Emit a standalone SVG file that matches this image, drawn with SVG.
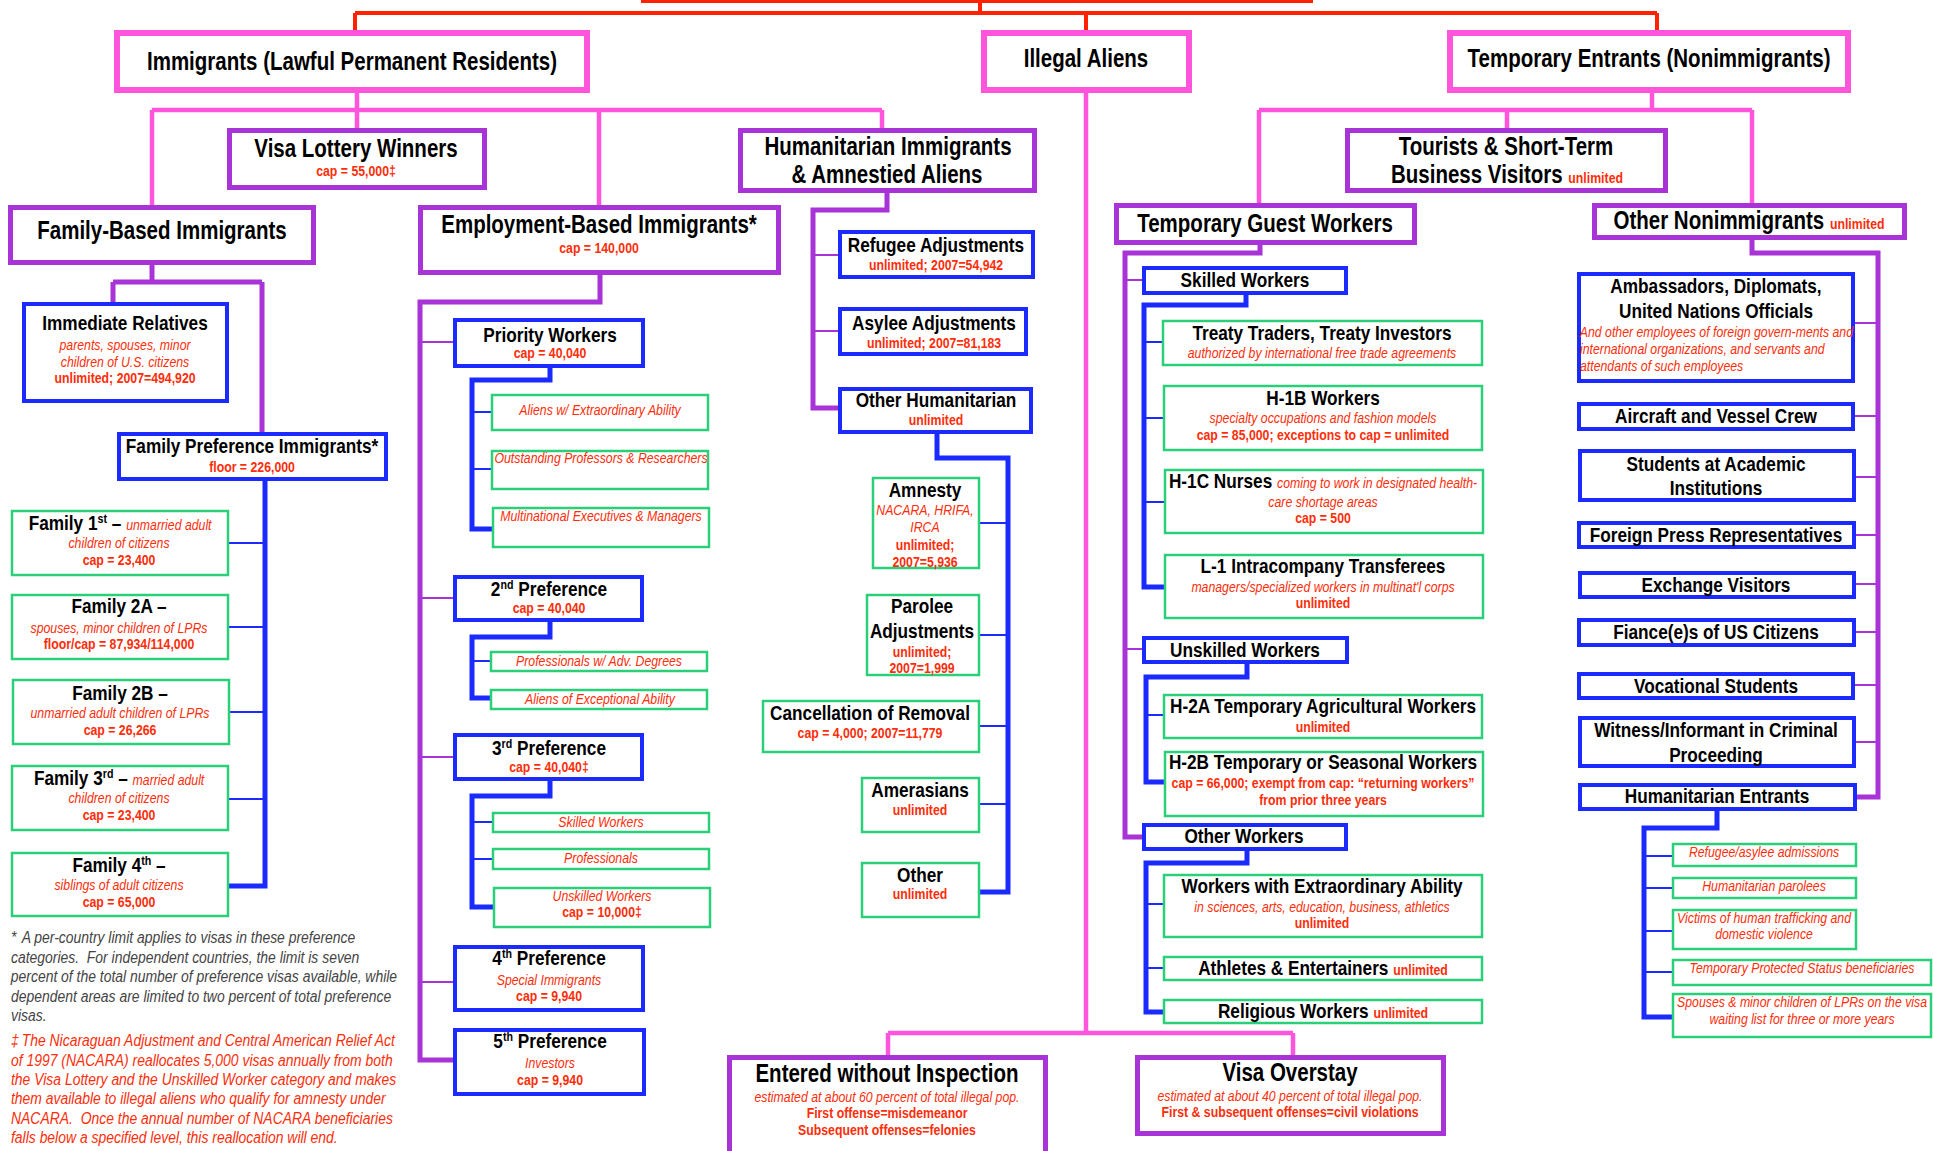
<svg xmlns="http://www.w3.org/2000/svg" width="1933" height="1151" viewBox="0 0 1933 1151">
<style>
.bg{fill:#fff}
.pk{fill:#fff;stroke:#FF55DD;stroke-width:6}
.pu{fill:#fff;stroke:#A833D6;stroke-width:5}
.bl{fill:#fff;stroke:#1B2BFF;stroke-width:4}
.gr{fill:#fff;stroke:#2ACF7A;stroke-width:2.5}
.cr{fill:none;stroke:#FF2200;stroke-width:4}
.cp{fill:none;stroke:#FF55DD;stroke-width:4.5}
.cu{fill:none;stroke:#A833D6;stroke-width:5}
.cut{fill:none;stroke:#A833D6;stroke-width:2}
.cb{fill:none;stroke:#1B2BFF;stroke-width:5}
.cbt{fill:none;stroke:#1B2BFF;stroke-width:2}
text{font-family:"Liberation Sans",Arial,sans-serif;transform:scaleX(0.82);transform-box:fill-box;transform-origin:50% 50%}
text.L{transform-origin:0% 50%}
.T{font-size:25px;font-weight:bold;text-anchor:middle;fill:#000}
.B{font-size:21px;font-weight:bold;text-anchor:middle;fill:#000}
.R{font-size:15px;font-weight:bold;text-anchor:middle;fill:#FF2D0A}
.I{font-size:15px;font-style:italic;text-anchor:middle;fill:#FF2D0A}
.ri{font-size:15px;font-style:italic;font-weight:normal;fill:#FF2D0A}
.rb{font-size:15px;font-weight:bold;fill:#FF2D0A}
.sup{font-size:13px}
.fg{font-size:17px;font-style:italic;fill:#444}
.fr{font-size:17px;font-style:italic;fill:#FF2D0A}
</style>
<rect class="bg" x="0" y="0" width="1933" height="1151"/>

<g id="connectors">
<path class="cr" d="M641,1H1313M980,0V13M355,13H1657M355,13V30M1086,13V30M1657,13V30"/>
<path class="cp" d="M357,93V128M152,110H882M152,110V205M599,110V205M882,110V128"/>
<path class="cp" d="M1086,93V1033M888,1033H1293M888,1033V1055M1293,1033V1055"/>
<path class="cp" d="M1652,93V110M1259,110H1752M1259,110V203M1507,110V128M1752,110V203"/>
<path class="cu" d="M152,265V282M113,282H262M113,282V302M262,282V432"/>
<path class="cu" d="M600,275V302H420V1060H453"/>
<path class="cut" d="M420,342H453M420,598H453M420,757H453M420,982H453"/>
<path class="cu" d="M887,193V210H813V408H838"/>
<path class="cut" d="M813,255H838M813,331H838"/>
<path class="cu" d="M1260,245V253H1125V837H1142"/>
<path class="cut" d="M1125,280H1142M1125,649H1142"/>
<path class="cu" d="M1752,240V253H1878V797H1857"/>
<path class="cut" d="M1855,323H1878M1855,416H1878M1856,477H1878M1856,535H1878M1856,584H1878M1856,632H1878M1855,685H1878M1856,742H1878"/>
<path class="cb" d="M265,481V886H229"/>
<path class="cbt" d="M229,543H265M229,627H265M230,712H265M229,799H265"/>
<path class="cb" d="M550,368V380H472V529H492"/>
<path class="cbt" d="M472,412H491M472,469H491"/>
<path class="cb" d="M550,622V637H472V698H490"/>
<path class="cbt" d="M472,661H490"/>
<path class="cb" d="M550,781V796H472V907H493"/>
<path class="cbt" d="M472,822H492M472,859H492"/>
<path class="cb" d="M937,434V458H1008V892H980"/>
<path class="cbt" d="M980,523H1008M980,635H1008M980,726H1008M980,804H1008"/>
<path class="cb" d="M1246,295V305H1144V587H1164"/>
<path class="cbt" d="M1144,342H1162M1144,418H1163M1144,502H1164"/>
<path class="cb" d="M1247,664V677H1146V782H1164"/>
<path class="cbt" d="M1146,715H1163"/>
<path class="cb" d="M1247,851V863H1146V1012H1164"/>
<path class="cbt" d="M1146,904H1163M1146,968H1163"/>
<path class="cb" d="M1717,811V828H1644V1017H1672"/>
<path class="cbt" d="M1644,856H1672M1644,888H1672M1644,931H1672M1644,972H1672"/>
</g>

<g id="immigrants"><rect class="pk" x="117" y="33" width="470" height="57"/><text class="T" x="352" y="70">Immigrants (Lawful Permanent Residents)</text></g>
<g id="illegal"><rect class="pk" x="984" y="33" width="205" height="57"/><text class="T" x="1086" y="67">Illegal Aliens</text></g>
<g id="temporary"><rect class="pk" x="1450" y="33" width="398" height="57"/><text class="T" x="1649" y="67">Temporary Entrants (Nonimmigrants)</text></g>

<g id="visa-lottery"><rect class="pu" x="229.5" y="130.5" width="255" height="57"/><text class="T" x="356" y="157">Visa Lottery Winners</text><text class="R" x="356" y="176">cap = 55,000‡</text></g>
<g id="humanitarian"><rect class="pu" x="740.5" y="130.5" width="294" height="60"/><text class="T" x="888" y="155">Humanitarian Immigrants</text><text class="T" x="887" y="183">&amp; Amnestied Aliens</text></g>
<g id="family-based"><rect class="pu" x="10.5" y="207.5" width="303" height="55"/><text class="T" x="162" y="239">Family-Based Immigrants</text></g>
<g id="employment"><rect class="pu" x="420.5" y="207.5" width="358" height="65"/><text class="T" x="599" y="233">Employment-Based Immigrants*</text><text class="R" x="599" y="253">cap = 140,000</text></g>
<g id="tourists"><rect class="pu" x="1347.5" y="130.5" width="318" height="60"/><text class="T" x="1506" y="155">Tourists &amp; Short-Term</text><text class="T" x="1507" y="183">Business Visitors <tspan class="rb">unlimited</tspan></text></g>
<g id="guest-workers"><rect class="pu" x="1116.5" y="205.5" width="298" height="37"/><text class="T" x="1265" y="232">Temporary Guest Workers</text></g>
<g id="other-nonimm"><rect class="pu" x="1594.5" y="205.5" width="310" height="32"/><text class="T" x="1749" y="229">Other Nonimmigrants <tspan class="rb">unlimited</tspan></text></g>
<g id="entered"><rect class="pu" x="729.5" y="1057.5" width="316" height="110"/><text class="T" x="887" y="1082">Entered without Inspection</text><text class="I" x="887" y="1102">estimated at about 60 percent of total illegal pop.</text><text class="R" x="887" y="1118">First offense=misdemeanor</text><text class="R" x="887" y="1135">Subsequent offenses=felonies</text></g>
<g id="overstay"><rect class="pu" x="1137.5" y="1057.5" width="306" height="76"/><text class="T" x="1290" y="1081">Visa Overstay</text><text class="I" x="1290" y="1101">estimated at about 40 percent of total illegal pop.</text><text class="R" x="1290" y="1117">First &amp; subsequent offenses=civil violations</text></g>

<g id="immediate"><rect class="bl" x="24" y="304" width="203" height="97"/><text class="B" x="125" y="330">Immediate Relatives</text><text class="I" x="125" y="350">parents, spouses, minor</text><text class="I" x="125" y="367">children of U.S. citizens</text><text class="R" x="125" y="383">unlimited; 2007=494,920</text></g>
<g id="family-pref"><rect class="bl" x="119" y="434" width="267" height="45"/><text class="B" x="252" y="453">Family Preference Immigrants*</text><text class="R" x="252" y="472">floor = 226,000</text></g>
<g id="fam1"><rect class="gr" x="12" y="511" width="216" height="64"/><text class="B" x="120" y="530">Family 1<tspan class="sup" dy="-7">st</tspan><tspan dy="7"> – </tspan><tspan class="ri">unmarried adult</tspan></text><text class="I" x="119" y="548">children of citizens</text><text class="R" x="119" y="565">cap = 23,400</text></g>
<g id="fam2a"><rect class="gr" x="12" y="595" width="216" height="64"/><text class="B" x="119" y="613">Family 2A –</text><text class="I" x="119" y="633">spouses, minor children of LPRs</text><text class="R" x="119" y="649">floor/cap = 87,934/114,000</text></g>
<g id="fam2b"><rect class="gr" x="13" y="680" width="216" height="64"/><text class="B" x="120" y="700">Family 2B –</text><text class="I" x="120" y="718">unmarried adult children of LPRs</text><text class="R" x="120" y="735">cap = 26,266</text></g>
<g id="fam3"><rect class="gr" x="12" y="766" width="216" height="64"/><text class="B" x="119" y="785">Family 3<tspan class="sup" dy="-7">rd</tspan><tspan dy="7"> – </tspan><tspan class="ri">married adult</tspan></text><text class="I" x="119" y="803">children of citizens</text><text class="R" x="119" y="820">cap = 23,400</text></g>
<g id="fam4"><rect class="gr" x="12" y="853" width="216" height="63"/><text class="B" x="119" y="872">Family 4<tspan class="sup" dy="-7">th</tspan><tspan dy="7"> –</tspan></text><text class="I" x="119" y="890">siblings of adult citizens</text><text class="R" x="119" y="907">cap = 65,000</text></g>

<g id="priority"><rect class="bl" x="455" y="320" width="188" height="46"/><text class="B" x="550" y="342">Priority Workers</text><text class="R" x="550" y="358">cap = 40,040</text></g>
<g id="eb1a"><rect class="gr" x="492" y="395" width="216" height="35"/><text class="I" x="600" y="415">Aliens w/ Extraordinary Ability</text></g>
<g id="eb1b"><rect class="gr" x="492" y="451" width="216" height="38"/><text class="I" x="601" y="463">Outstanding Professors &amp; Researchers</text></g>
<g id="eb1c"><rect class="gr" x="493" y="508" width="216" height="39"/><text class="I" x="601" y="521">Multinational Executives &amp; Managers</text></g>
<g id="pref2"><rect class="bl" x="455" y="577" width="187" height="43"/><text class="B" x="549" y="596">2<tspan class="sup" dy="-7">nd</tspan><tspan dy="7"> Preference</tspan></text><text class="R" x="549" y="613">cap = 40,040</text></g>
<g id="eb2a"><rect class="gr" x="491" y="652" width="216" height="19"/><text class="I" x="599" y="666">Professionals w/ Adv. Degrees</text></g>
<g id="eb2b"><rect class="gr" x="491" y="690" width="216" height="19"/><text class="I" x="600" y="704">Aliens of Exceptional Ability</text></g>
<g id="pref3"><rect class="bl" x="455" y="735" width="187" height="44"/><text class="B" x="549" y="755">3<tspan class="sup" dy="-7">rd</tspan><tspan dy="7"> Preference</tspan></text><text class="R" x="549" y="772">cap = 40,040‡</text></g>
<g id="eb3a"><rect class="gr" x="493" y="813" width="216" height="19"/><text class="I" x="601" y="827">Skilled Workers</text></g>
<g id="eb3b"><rect class="gr" x="493" y="849" width="216" height="20"/><text class="I" x="601" y="863">Professionals</text></g>
<g id="eb3c"><rect class="gr" x="494" y="888" width="216" height="39"/><text class="I" x="602" y="901">Unskilled Workers</text><text class="R" x="602" y="917">cap = 10,000‡</text></g>
<g id="pref4"><rect class="bl" x="455" y="947" width="188" height="63"/><text class="B" x="549" y="965">4<tspan class="sup" dy="-7">th</tspan><tspan dy="7"> Preference</tspan></text><text class="I" x="549" y="985">Special Immigrants</text><text class="R" x="549" y="1001">cap = 9,940</text></g>
<g id="pref5"><rect class="bl" x="455" y="1030" width="189" height="64"/><text class="B" x="550" y="1048">5<tspan class="sup" dy="-7">th</tspan><tspan dy="7"> Preference</tspan></text><text class="I" x="550" y="1068">Investors</text><text class="R" x="550" y="1085">cap = 9,940</text></g>

<g id="refugee"><rect class="bl" x="840" y="232" width="193" height="45"/><text class="B" x="936" y="252">Refugee Adjustments</text><text class="R" x="936" y="270">unlimited; 2007=54,942</text></g>
<g id="asylee"><rect class="bl" x="840" y="309" width="186" height="45"/><text class="B" x="934" y="330">Asylee Adjustments</text><text class="R" x="934" y="348">unlimited; 2007=81,183</text></g>
<g id="other-hum"><rect class="bl" x="840" y="389" width="191" height="43"/><text class="B" x="936" y="407">Other Humanitarian</text><text class="R" x="936" y="425">unlimited</text></g>
<g id="amnesty"><rect class="gr" x="873" y="478" width="106" height="90"/><text class="B" x="925" y="497">Amnesty</text><text class="I" x="925" y="515">NACARA, HRIFA,</text><text class="I" x="925" y="532">IRCA</text><text class="R" x="925" y="550">unlimited;</text><text class="R" x="925" y="567">2007=5,936</text></g>
<g id="parolee"><rect class="gr" x="867" y="595" width="112" height="80"/><text class="B" x="922" y="613">Parolee</text><text class="B" x="922" y="638">Adjustments</text><text class="R" x="922" y="657">unlimited;</text><text class="R" x="922" y="673">2007=1,999</text></g>
<g id="cancellation"><rect class="gr" x="763" y="701" width="216" height="51"/><text class="B" x="870" y="720">Cancellation of Removal</text><text class="R" x="870" y="738">cap = 4,000; 2007=11,779</text></g>
<g id="amerasians"><rect class="gr" x="862" y="778" width="117" height="54"/><text class="B" x="920" y="797">Amerasians</text><text class="R" x="920" y="815">unlimited</text></g>
<g id="other-h"><rect class="gr" x="862" y="863" width="117" height="54"/><text class="B" x="920" y="882">Other</text><text class="R" x="920" y="899">unlimited</text></g>

<g id="skilled"><rect class="bl" x="1144" y="268" width="202" height="25"/><text class="B" x="1245" y="287">Skilled Workers</text></g>
<g id="treaty"><rect class="gr" x="1163" y="321" width="319" height="44"/><text class="B" x="1322" y="340">Treaty Traders, Treaty Investors</text><text class="I" x="1322" y="358">authorized by international free trade agreements</text></g>
<g id="h1b"><rect class="gr" x="1164" y="386" width="318" height="64"/><text class="B" x="1323" y="405">H-1B Workers</text><text class="I" x="1323" y="423">specialty occupations and fashion models</text><text class="R" x="1323" y="440">cap = 85,000; exceptions to cap = unlimited</text></g>
<g id="h1c"><rect class="gr" x="1165" y="470" width="318" height="63"/><text class="B" x="1323" y="488">H-1C Nurses <tspan class="ri">coming to work in designated health-</tspan></text><text class="I" x="1323" y="507">care shortage areas</text><text class="R" x="1323" y="523">cap = 500</text></g>
<g id="l1"><rect class="gr" x="1165" y="555" width="318" height="63"/><text class="B" x="1323" y="573">L-1 Intracompany Transferees</text><text class="I" x="1323" y="592">managers/specialized workers in multinat'l corps</text><text class="R" x="1323" y="608">unlimited</text></g>
<g id="unskilled"><rect class="bl" x="1144" y="638" width="203" height="24"/><text class="B" x="1245" y="657">Unskilled Workers</text></g>
<g id="h2a"><rect class="gr" x="1164" y="695" width="318" height="43"/><text class="B" x="1323" y="713">H-2A Temporary Agricultural Workers</text><text class="R" x="1323" y="732">unlimited</text></g>
<g id="h2b"><rect class="gr" x="1165" y="752" width="318" height="64"/><text class="B" x="1323" y="769">H-2B Temporary or Seasonal Workers</text><text class="R" x="1323" y="788">cap = 66,000; exempt from cap: “returning workers”</text><text class="R" x="1323" y="805">from prior three years</text></g>
<g id="other-workers"><rect class="bl" x="1144" y="825" width="202" height="24"/><text class="B" x="1244" y="843">Other Workers</text></g>
<g id="wea"><rect class="gr" x="1164" y="875" width="318" height="62"/><text class="B" x="1322" y="893">Workers with Extraordinary Ability</text><text class="I" x="1322" y="912">in sciences, arts, education, business, athletics</text><text class="R" x="1322" y="928">unlimited</text></g>
<g id="athletes"><rect class="gr" x="1164" y="957" width="318" height="23"/><text class="B" x="1323" y="975">Athletes &amp; Entertainers <tspan class="rb">unlimited</tspan></text></g>
<g id="religious"><rect class="gr" x="1164" y="1000" width="318" height="23"/><text class="B" x="1323" y="1018">Religious Workers <tspan class="rb">unlimited</tspan></text></g>

<g id="ambassadors"><rect class="bl" x="1579" y="274" width="274" height="107"/><text class="B" x="1716" y="293">Ambassadors, Diplomats,</text><text class="B" x="1716" y="318">United Nations Officials</text><text class="ri L" x="1580" y="337">And other employees of foreign govern-ments and</text><text class="ri L" x="1580" y="354">international organizations, and servants and</text><text class="ri L" x="1580" y="371">attendants of such employees</text></g>
<g id="aircraft"><rect class="bl" x="1579" y="404" width="274" height="25"/><text class="B" x="1716" y="423">Aircraft and Vessel Crew</text></g>
<g id="students"><rect class="bl" x="1580" y="451" width="274" height="49"/><text class="B" x="1716" y="471">Students at Academic</text><text class="B" x="1716" y="495">Institutions</text></g>
<g id="press"><rect class="bl" x="1579" y="523" width="275" height="24"/><text class="B" x="1716" y="542">Foreign Press Representatives</text></g>
<g id="exchange"><rect class="bl" x="1580" y="573" width="274" height="24"/><text class="B" x="1716" y="592">Exchange Visitors</text></g>
<g id="fiance"><rect class="bl" x="1579" y="620" width="275" height="25"/><text class="B" x="1716" y="639">Fiance(e)s of US Citizens</text></g>
<g id="vocational"><rect class="bl" x="1579" y="674" width="274" height="24"/><text class="B" x="1716" y="693">Vocational Students</text></g>
<g id="witness"><rect class="bl" x="1580" y="718" width="274" height="48"/><text class="B" x="1716" y="737">Witness/Informant in Criminal</text><text class="B" x="1716" y="762">Proceeding</text></g>
<g id="hum-entrants"><rect class="bl" x="1580" y="785" width="275" height="24"/><text class="B" x="1717" y="803">Humanitarian Entrants</text></g>
<g id="he1"><rect class="gr" x="1673" y="844" width="183" height="22"/><text class="I" x="1764" y="857">Refugee/asylee admissions</text></g>
<g id="he2"><rect class="gr" x="1673" y="878" width="183" height="20"/><text class="I" x="1764" y="891">Humanitarian parolees</text></g>
<g id="he3"><rect class="gr" x="1673" y="910" width="183" height="39"/><text class="I" x="1764" y="923">Victims of human trafficking and</text><text class="I" x="1764" y="939">domestic violence</text></g>
<g id="he4"><rect class="gr" x="1673" y="960" width="258" height="25"/><text class="I" x="1802" y="973">Temporary Protected Status beneficiaries</text></g>
<g id="he5"><rect class="gr" x="1673" y="994" width="258" height="43"/><text class="I" x="1802" y="1007">Spouses &amp; minor children of LPRs on the visa</text><text class="I" x="1802" y="1024">waiting list for three or more years</text></g>

<g id="footnotes">
<text class="fg L" y="943"><tspan x="11">*</tspan><tspan x="24">A per-country limit applies to visas in these preference</tspan></text>
<text class="fg L" x="11" y="963">categories.&#160; For independent countries, the limit is seven</text>
<text class="fg L" x="11" y="982">percent of the total number of preference visas available, while</text>
<text class="fg L" x="11" y="1002">dependent areas are limited to two percent of total preference</text>
<text class="fg L" x="11" y="1021">visas.</text>
<text class="fr L" y="1046"><tspan x="11">‡</tspan><tspan x="24">The Nicaraguan Adjustment and Central American Relief Act</tspan></text>
<text class="fr L" x="11" y="1066">of 1997 (NACARA) reallocates 5,000 visas annually from both</text>
<text class="fr L" x="11" y="1085">the Visa Lottery and the Unskilled Worker category and makes</text>
<text class="fr L" x="11" y="1104">them available to illegal aliens who qualify for amnesty under</text>
<text class="fr L" x="11" y="1124">NACARA.&#160; Once the annual number of NACARA beneficiaries</text>
<text class="fr L" x="11" y="1143">falls below a specified level, this reallocation will end.</text>
</g>
</svg>
